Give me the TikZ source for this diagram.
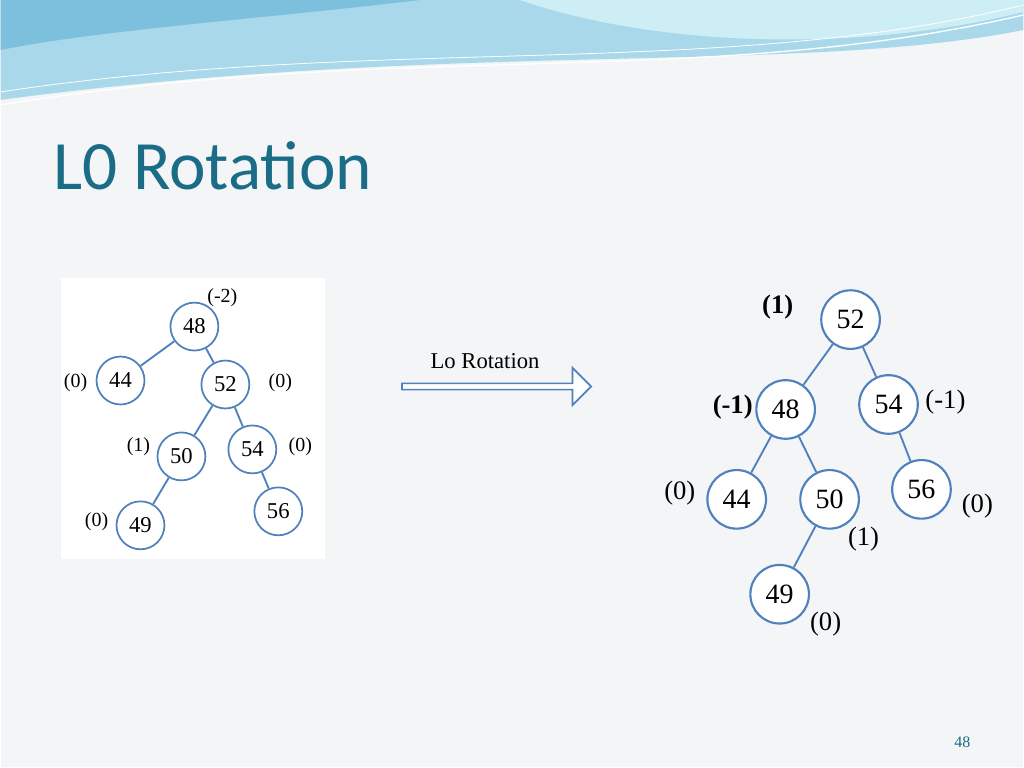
\documentclass[tikz,border=0pt]{standalone}
\usepackage{fontspec}
\setmainfont{Liberation Serif}
\newfontfamily\titlefont{Carlito}
\usetikzlibrary{shapes.arrows}
\definecolor{bgcol}{HTML}{F3F5F7}
\definecolor{edgecol}{HTML}{4F81BD}
\definecolor{titlecol}{HTML}{1B6C86}
\definecolor{wavea}{HTML}{A9D8EA}
\definecolor{waveb}{HTML}{CDEEF5}
\definecolor{wavec}{HTML}{7CC0DE}
\begin{document}
\begin{tikzpicture}[x=0.75pt,y=0.75pt,yscale=-1,xscale=1,
  small/.style={circle,draw=edgecol,line width=1.3pt,fill=white,minimum size=36,inner sep=0pt,font=\fontsize{17}{17}\selectfont},
  big/.style={circle,draw=edgecol,line width=1.6pt,fill=white,minimum size=44,inner sep=0pt,font=\fontsize{21}{21}\selectfont},
  bal/.style={inner sep=0.75pt,font=\fontsize{15}{15}\selectfont},
  bigbal/.style={inner sep=0.75pt,font=\fontsize{20}{20}\selectfont},
  link/.style={draw=edgecol,line width=1.4pt}]
%background
\fill[bgcol] (0,0) rectangle (1024,768);
\fill[wavea] (0,0) -- (1024,0) -- (1024,30) .. controls (800,75) and (450,40) .. (0,100) -- cycle;
\fill[wavec] (0,0) -- (420,0) .. controls (250,20) and (100,30) .. (0,50) -- cycle;
\fill[waveb] (440,0) -- (1024,0) -- (1024,12) .. controls (850,55) and (650,45) .. (520,0) -- cycle;
\draw[white,line width=1pt] (0,105) .. controls (400,40) and (700,90) .. (1024,15);
\draw[white,line width=0.6pt] (0,92) .. controls (380,35) and (720,80) .. (1024,5);
% Text Node
\node[anchor=west,text=titlecol,font=\titlefont\fontsize{52}{52}\selectfont] (title) at (48,166) {L0 Rotation};
%left tree
\fill[white] (60,278) rectangle (325,560);
\node[small] (l48) at (194,327) {48};
\node[small] (l44) at (120,381) {44};
\node[small] (l52) at (225,385) {52};
\node[small] (l50) at (181,457) {50};
\node[small] (l54) at (252,450) {54};
\node[small] (l49) at (140,526) {49};
\node[small] (l56) at (278,512) {56};
\draw[link] (l48) -- (l44);
\draw[link] (l48) -- (l52);
\draw[link] (l52) -- (l50);
\draw[link] (l52) -- (l54);
\draw[link] (l50) -- (l49);
\draw[link] (l54) -- (l56);
\node[bal] (lb48) at (222,298) {(-2)};
\node[bal] (lb44) at (75,383) {(0)};
\node[bal] (lb52) at (280,383) {(0)};
\node[bal] (lb50) at (138,447) {(1)};
\node[bal] (lb54) at (300,447) {(0)};
\node[bal] (lb49) at (96,522) {(0)};
%arrow
\node[single arrow,draw=edgecol,fill=white,line width=1.2pt,minimum width=28,single arrow head extend=3,minimum height=142,inner sep=0pt] (arr) at (495,387) {};
\node[font=\fontsize{17}{17}\selectfont] (arrlabel) at (485,362) {Lo Rotation};
%right tree
\node[big] (r52) at (851,320) {52};
\node[big] (r48) at (786,410) {48};
\node[big] (r54) at (889,405) {54};
\node[big] (r44) at (737,500) {44};
\node[big] (r50) at (830,500) {50};
\node[big] (r56) at (922,490) {56};
\node[big] (r49) at (780,595) {49};
\draw[link] (r52) -- (r48);
\draw[link] (r52) -- (r54);
\draw[link] (r48) -- (r44);
\draw[link] (r48) -- (r50);
\draw[link] (r54) -- (r56);
\draw[link] (r50) -- (r49);
\node[bigbal,font=\bfseries\fontsize{20}{20}\selectfont] (rb52) at (778,307) {(1)};
\node[bigbal,font=\bfseries\fontsize{20}{20}\selectfont] (rb48) at (733,408) {(-1)};
\node[bigbal] (rb54) at (946,403) {(-1)};
\node[bigbal] (rb44) at (680,494) {(0)};
\node[bigbal] (rb56) at (978,507) {(0)};
\node[bigbal] (rb50) at (864,540) {(1)};
\node[bigbal] (rb49) at (826,625) {(0)};
% Text Node
\node[text=titlecol,font=\fontsize{12}{12}\selectfont] (pagenum) at (963,743) {48};
\end{tikzpicture}
\end{document}
